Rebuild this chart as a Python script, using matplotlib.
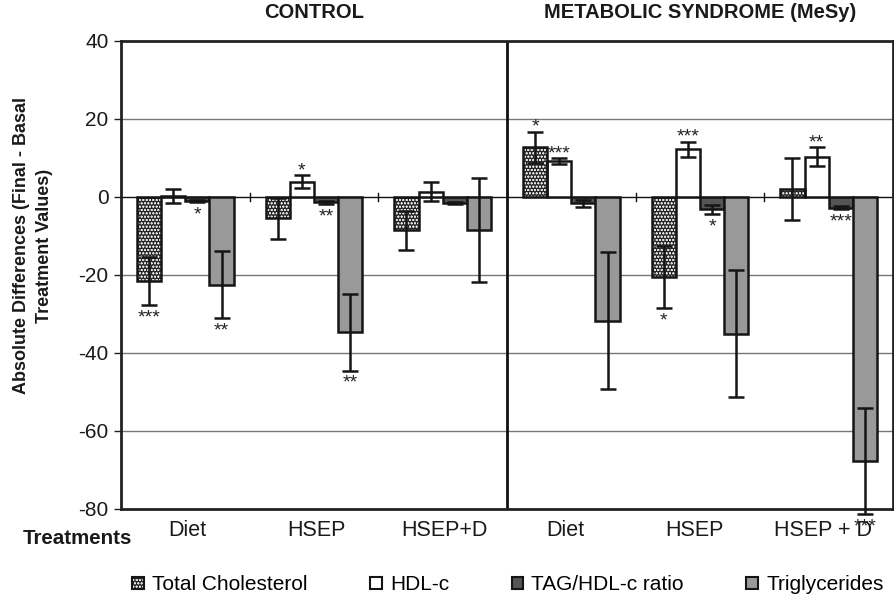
import matplotlib
matplotlib.use("Agg")
import matplotlib.pyplot as plt
import matplotlib.transforms as mtransforms
from matplotlib.patches import Patch
from matplotlib.legend_handler import HandlerTuple
import numpy as np

plt.rcParams['font.family'] = ['Liberation Sans', 'DejaVu Sans']
plt.rcParams['hatch.linewidth'] = 0.5

# ---- data ----
groups = ['Diet', 'HSEP', 'HSEP+D', 'Diet', 'HSEP', 'HSEP + D']
panels = ['CONTROL', 'METABOLIC SYNDROME (MeSy)']
series = ['Total Cholesterol', 'HDL-c', 'TAG/HDL-c ratio', 'Triglycerides']

tc = [-21.5, -5.5, -8.5, 12.7, -20.5, 2.0]
tc_err = [6.2, 5.2, 5.0, 4.0, 7.9, 8.0]
hdl = [0.3, 3.9, 1.4, 9.2, 12.2, 10.3]
hdl_err = [1.8, 1.7, 2.5, 0.8, 2.0, 2.4]
tag = [-1.0, -1.4, -1.5, -1.6, -3.2, -2.7]
tag_err = [0.3, 0.3, 0.3, 0.9, 1.1, 0.4]
tg = [-22.5, -34.7, -8.5, -31.7, -35.0, -67.8]
tg_err = [8.6, 9.8, 13.4, 17.6, 16.4, 13.6]

# significance marks: (group index, series index, label)
stars = [
    (0, 0, '***'), (0, 2, '*'), (0, 3, '**'),
    (1, 1, '*'), (1, 2, '**'), (1, 3, '**'),
    (3, 0, '*'), (3, 1, '***'),
    (4, 0, '*'), (4, 1, '***'), (4, 2, '*'),
    (5, 1, '**'), (5, 2, '***'), (5, 3, '***'),
]

yticks = [-80, -60, -40, -20, 0, 20, 40]

# ---- figure ----
fig = plt.figure(figsize=(8.95, 5.99), dpi=100)
ax = fig.add_axes([121/895, 1 - 509/599, (893 - 121)/895, (509 - 41)/599])

vals = [tc, hdl, tag, tg]
errs = [tc_err, hdl_err, tag_err, tg_err]
faces = ['#262626', 'white', '#555555', '#999999']
edge = '#151515'
n = len(groups)
x = np.arange(n)
w = 0.1875
offs = (np.arange(4) - 1.5) * w

for i in range(4):
    xs = x + offs[i]
    if i == 0:
        ax.bar(xs, vals[i], w, color=faces[i], edgecolor='#dddddd', hatch='ooooo',
               linewidth=0, zorder=3)
        ax.bar(xs, vals[i], w, color='none', edgecolor=edge, linewidth=1.8, zorder=4)
    else:
        ax.bar(xs, vals[i], w, color=faces[i], edgecolor=edge, linewidth=1.8, zorder=3)
    ax.errorbar(xs, vals[i], yerr=errs[i], fmt='none', ecolor=edge, elinewidth=1.8,
                capsize=5.5, capthick=1.8, zorder=5, clip_on=False)

for g, s, lab in stars:
    v = vals[s][g]
    e = errs[s][g]
    xs = x[g] + offs[s]
    if v >= 0:
        ax.annotate(lab, (xs, v + e), xytext=(0, 0), textcoords='offset points',
                    ha='center', va='baseline', fontsize=14, color='#222222',
                    annotation_clip=False, zorder=6)
    else:
        ax.annotate(lab, (xs, v - e), xytext=(0, -12.5), textcoords='offset points',
                    ha='center', va='baseline', fontsize=14, color='#222222',
                    annotation_clip=False, zorder=6)

ax.set_xlim(-0.5, n - 0.5)
ax.set_ylim(-80, 40)
ax.set_yticks(yticks)
ax.set_yticklabels([str(t) for t in yticks], fontsize=15, color='#1a1a1a')
ax.tick_params(axis='y', direction='out', length=5, width=1, color='#222222', pad=4)
ax.set_xticks([])
for y in yticks[1:-1]:
    if y == 0:
        continue
    ax.axhline(y, color='#777777', linewidth=1.0, zorder=1)
ax.axhline(0, color='#111111', linewidth=1.0, zorder=2)
# category separator ticks on the zero line
for b in np.arange(1, n):
    ax.plot([b - 0.5, b - 0.5], [-0.9, 0.9], color='#111111', linewidth=1.0, zorder=2)
# panel divider
ax.axvline(n / 2 - 0.5, color='#111111', linewidth=2.0, zorder=2)
for sp in ax.spines.values():
    sp.set_linewidth(2.0)
    sp.set_color('#222222')

# panel titles
tr = mtransforms.blended_transform_factory(ax.transData, fig.transFigure)
ax.text(1, 1 - 13/599, panels[0], transform=tr, ha='center', va='center',
        fontsize=14.5, fontweight='bold', color='#1a1a1a')
ax.text(4, 1 - 13/599, panels[1], transform=tr, ha='center', va='center',
        fontsize=14.5, fontweight='bold', color='#1a1a1a')

# category labels (slightly shifted per panel, as in the original layout)
for i, g in enumerate(groups):
    dx = 2 if i < n // 2 else -6
    t = tr + mtransforms.ScaledTranslation(dx / 100, 0, fig.dpi_scale_trans)
    ax.text(x[i], 1 - 531/599, g, transform=t, ha='center', va='center',
            fontsize=15.5, color='#1a1a1a')
fig.text(77/895, 1 - 538/599, 'Treatments', ha='center', va='center', fontsize=14.8,
         fontweight='bold', color='#1a1a1a')

fig.text(33/895, 1 - 246/599, 'Absolute Differences (Final - Basal\nTreatment Values)',
         rotation=90, ha='center', va='center', multialignment='center', fontsize=13,
         fontweight='bold', color='#1a1a1a', linespacing=1.5)

# legend
h0 = (Patch(facecolor=faces[0], edgecolor='#dddddd', hatch='ooooo', linewidth=0),
      Patch(facecolor='none', edgecolor=edge, linewidth=1.5))
handles = [h0] + [Patch(facecolor=faces[i], edgecolor=edge, linewidth=1.5) for i in range(1, 4)]
fig.legend(handles, series, loc='center', bbox_to_anchor=(508/895, 1 - 585/599), ncol=4,
           frameon=False, fontsize=15, handlelength=0.55, handleheight=0.55,
           handletextpad=0.4, columnspacing=3.0, borderpad=0, borderaxespad=0,
           handler_map={tuple: HandlerTuple(ndivide=1)})

fig.savefig('out.png', dpi=100)
